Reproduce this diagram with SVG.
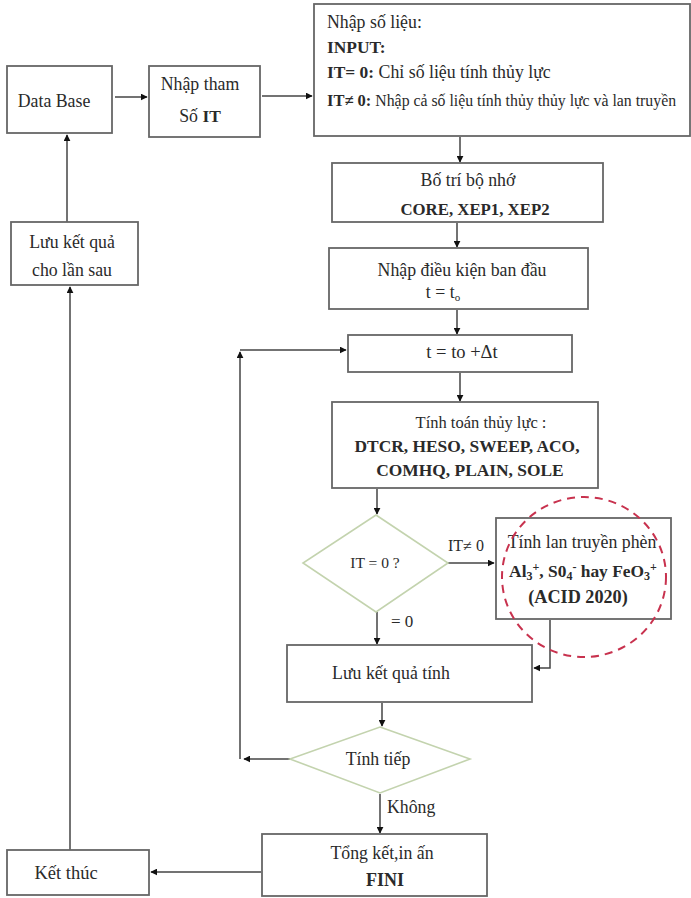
<svg xmlns="http://www.w3.org/2000/svg" width="691" height="898" viewBox="0 0 691 898">
<defs>
<marker id="ah" viewBox="0 0 10 10" refX="9" refY="5" markerWidth="7" markerHeight="7" markerUnits="userSpaceOnUse" orient="auto">
<path d="M0,0 L10,5 L0,10 z" fill="#111"/>
</marker>
</defs>
<style>
.box{fill:#fff;stroke:#666;stroke-width:1.8}
.dia{fill:#fff;stroke:#c3d3ae;stroke-width:1.6}
.t{font-family:"Liberation Serif","Times New Roman",serif;font-size:17.8px;fill:#2a2a2a}
.b{font-weight:bold;font-size:17.4px}
.m{text-anchor:middle}
.c{fill:none;stroke:#444;stroke-width:1.5;marker-end:url(#ah)}
</style>
<rect width="691" height="898" fill="#fff"/>

<g id="connectors">
<path class="c" d="M115,97 H147"/>
<path class="c" d="M262,96 H312"/>
<path class="c" d="M460,137 V162"/>
<path class="c" d="M457,223 V247"/>
<path class="c" d="M457,310 V334"/>
<path class="c" d="M460,373 V401"/>
<path class="c" d="M377,489 V514"/>
<path class="c" d="M448,563 H494"/>
<path class="c" d="M377,612 V644"/>
<path class="c" d="M550,620 V668 H534"/>
<path class="c" d="M382,703 V726"/>
<path class="c" d="M380,794 V833"/>
<path class="c" d="M290,759 H244"/>
<path class="c" d="M240,759 V352"/>
<path class="c" d="M240,350 H346"/>
<path class="c" d="M261,872 H151"/>
<path class="c" d="M70,850 V287"/>
<path class="c" d="M67,222 V135"/>
</g>

<g id="database">
<rect class="box" x="7" y="66" width="105" height="67"/>
<text class="t m" x="54" y="107">Data Base</text>
</g>

<g id="nhapthamso">
<rect class="box" x="149" y="66" width="111" height="71"/>
<text class="t m" x="200" y="90">Nhập tham</text>
<text class="t m" x="200" y="122">Số <tspan class="b">IT</tspan></text>
</g>

<g id="nhapsolieu">
<rect class="box" x="314" y="4" width="376" height="132" stroke="#999" stroke-width="2.5"/>
<text class="t" x="327" y="28">Nhập số liệu:</text>
<text class="t b" x="327" y="53">INPUT:</text>
<text class="t" x="327" y="78"><tspan class="b">IT= 0:</tspan> Chỉ số liệu tính thủy lực</text>
<text class="t" x="327" y="106" style="font-size:15.8px"><tspan class="b" style="font-size:16.5px">IT≠ 0:</tspan> Nhập cả số liệu tính thủy thủy lực và lan truyền</text>
</g>

<g id="botri">
<rect class="box" x="332" y="163" width="271" height="59"/>
<text class="t m" x="468" y="186">Bố trí bộ nhớ</text>
<text class="t b m" x="475" y="215" style="font-size:16.8px">CORE, XEP1, XEP2</text>
</g>

<g id="dieukien">
<rect class="box" x="329" y="248" width="259" height="61"/>
<text class="t m" x="462" y="276">Nhập điều kiện ban đầu</text>
<text class="t m" x="443" y="298">t = t<tspan font-size="11" dy="3">o</tspan></text>
</g>

<g id="tstep">
<rect class="box" x="348" y="335" width="224" height="37"/>
<text class="t m" x="462" y="358" style="font-size:18.5px">t = to +Δt</text>
</g>

<g id="tinhtoan">
<rect class="box" x="332" y="402" width="266" height="86"/>
<text class="t m" x="481" y="428" style="font-size:16.5px">Tính toán thủy lực :</text>
<text class="t b m" x="467" y="452">DTCR, HESO, SWEEP, ACO,</text>
<text class="t b m" x="470" y="476">COMHQ, PLAIN, SOLE</text>
</g>

<g id="it0">
<path class="dia" d="M376,515 L448,563 L376,612 L303,563 z"/>
<text class="t m" x="375" y="568" style="font-size:15.5px">IT = 0 ?</text>
<text class="t" x="448" y="551" style="font-size:16px">IT≠ 0</text>
<text class="t" x="391" y="627" style="font-size:17px">= 0</text>
</g>

<g id="tinhlan">
<rect class="box" x="496" y="518" width="175" height="101"/>
<text class="t m" x="582" y="548">Tính lan truyền phèn</text>
<text class="t b m" x="583" y="577">Al<tspan font-size="12" dy="3">3</tspan><tspan font-size="12" dy="-9">+</tspan><tspan dy="6">, S0</tspan><tspan font-size="12" dy="3">4</tspan><tspan font-size="12" dy="-9">-</tspan><tspan dy="6"> hay FeO</tspan><tspan font-size="12" dy="3">3</tspan><tspan font-size="12" dy="-9">+</tspan></text>
<text class="t b m" x="578" y="603" style="font-size:18.2px">(ACID 2020)</text>
<ellipse cx="584" cy="577" rx="82" ry="80" fill="none" stroke="#c8324e" stroke-width="2" stroke-dasharray="8,6"/>
</g>

<g id="luuketqua">
<rect class="box" x="287" y="645" width="245" height="57"/>
<text class="t m" x="391" y="679">Lưu kết quả tính</text>
</g>

<g id="tinhtiep">
<path class="dia" d="M380,727 L470,759 L380,793 L290,759 z"/>
<text class="t m" x="378" y="765">Tính tiếp</text>
<text class="t" x="387" y="813">Không</text>
</g>

<g id="tongket">
<rect class="box" x="262" y="834" width="225" height="62"/>
<text class="t m" x="382" y="859">Tổng kết,in ấn</text>
<text class="t b m" x="385" y="886" style="font-size:18px">FINI</text>
</g>

<g id="ketthuc">
<rect class="box" x="7" y="850" width="142" height="45"/>
<text class="t m" x="66" y="879" style="font-size:18.5px">Kết thúc</text>
</g>

<g id="luulansau">
<rect class="box" x="11" y="222" width="127" height="63"/>
<text class="t m" x="72" y="248">Lưu kết quả</text>
<text class="t m" x="72" y="276">cho lần sau</text>
</g>
</svg>
